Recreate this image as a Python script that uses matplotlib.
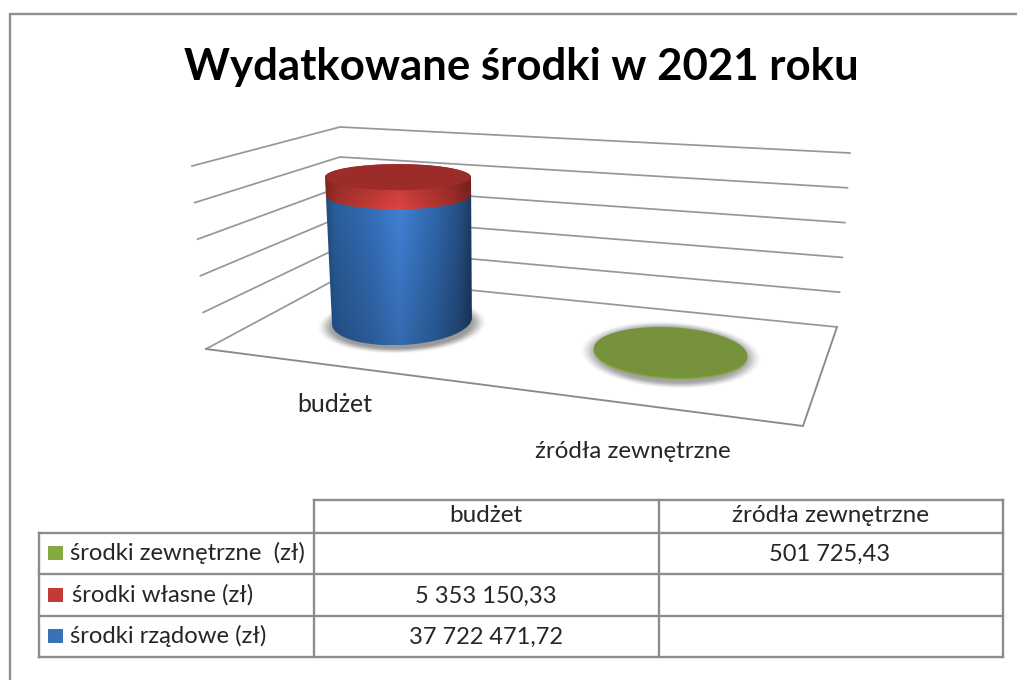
import numpy as np
import matplotlib
matplotlib.use("Agg")
import matplotlib.pyplot as plt
from matplotlib.patches import Polygon, Rectangle

# ---- data ----
title = "Wydatkowane środki w 2021 roku"
categories = ["budżet", "źródła zewnętrzne"]
srodki_rzadowe = [37722471.72, None]
srodki_wlasne = [5353150.33, None]
srodki_zewnetrzne = [None, 501725.43]
row_labels = ["środki zewnętrzne  (zł)", "środki własne (zł)", "środki rządowe (zł)"]
value_ticks = [0, 10e6, 20e6, 30e6, 40e6, 50e6]

# ---- layout / style ----
W, H = 1017, 680
FONT = ["Lato", "DejaVu Sans"]
LINE = "#8c8c8c"
GREY_TEXT = "#262626"


def fmt(v):
    if v is None:
        return ""
    s = f"{v:,.2f}"
    return s.replace(",", " ").replace(".", ",")


fig = plt.figure(figsize=(W / 100, H / 100), dpi=100, facecolor="white")
ax = fig.add_axes([0, 0, 1, 1])
ax.set_axis_off()


def restore():
    ax.set_xlim(0, W)
    ax.set_ylim(H, 0)


restore()

# outer frame (open to the right and bottom)
ax.plot([9.5, 9.5, W], [H, 13.5, 13.5], color="#8f8f8f", lw=1.7, solid_joinstyle="miter", zorder=1)

ax.text(521, 67, title, ha="center", va="center", fontsize=31.5, fontweight="bold",
        family=FONT, color="black")


# ---- 3D wall and floor: value scale for each of the three wall edges ----
def y_left(v):
    return 349 - 36.6 * v / 10e6


def x_left(v):
    return 206 - 2.8 * v / 10e6


def y_back(v):
    return 277 - 30.0 * v / 10e6


def y_right(v):
    return 327 - 34.8 * v / 10e6


def x_right(v):
    return 837 + 2.6 * v / 10e6


for v in value_ticks:
    ax.plot([x_left(v), 340, x_right(v)], [y_left(v), y_back(v), y_right(v)],
            color="#979797", lw=1.25, solid_joinstyle="miter", zorder=2)
ax.plot([x_left(0), 803, x_right(0)], [y_left(0), 426, y_right(0)],
        color="#8a8a8a", lw=1.35, solid_joinstyle="miter", zorder=2)


# ---- cylinders ----
def soft_ellipse(cx, cy, rx, ry, angle, zorder, strength):
    """Blurred grey ground shadow."""
    pad = 1.0
    xs = np.linspace(cx - rx - pad, cx + rx + pad, 320)
    ys = np.linspace(cy - ry - pad, cy + ry + pad, 160)
    X, Y = np.meshgrid(xs, ys)
    t = np.radians(angle)
    dx, dy = X - cx, Y - cy
    u = dx * np.cos(t) + dy * np.sin(t)
    w = -dx * np.sin(t) + dy * np.cos(t)
    d = np.sqrt((u / rx) ** 2 + (w / ry) ** 2)
    s = np.clip((1 - d) / 0.22, 0, 1)
    alpha = s * s * (3 - 2 * s) * strength
    rgba = np.zeros(X.shape + (4,))
    rgba[..., :3] = 0.28
    rgba[..., 3] = alpha
    ax.imshow(rgba, extent=(xs[0], xs[-1], ys[-1], ys[0]), aspect="auto", zorder=zorder,
              interpolation="bilinear")
    restore()


def ring(base, v, vmax_ref):
    """Ellipse of a cylinder at stacked value v: perspective narrows it upward."""
    cx0, cy0, rx0, ry0, tilt0, px_per, cx_top, rx_top, ry_top = base
    f = v / vmax_ref
    return (cx0 + (cx_top - cx0) * f, cy0 - v * px_per, rx0 + (rx_top - rx0) * f,
            ry0 + (ry_top - ry0) * f, tilt0 * (1 - f))


def arc(e, a0, a1, n=80):
    cx, cy, rx, ry, tilt = e
    a = np.radians(np.linspace(a0, a1, n))
    t = np.radians(tilt)
    x, y = rx * np.cos(a), ry * np.sin(a)
    return np.c_[cx + x * np.cos(t) - y * np.sin(t), cy + x * np.sin(t) + y * np.cos(t)]


def shade(stops, top_f, bot_f):
    xs = np.linspace(0, 1, 200)
    pos = [s[0] for s in stops]
    cols = np.array([matplotlib.colors.to_rgb(s[1]) for s in stops])
    row = np.stack([np.interp(xs, pos, cols[:, i]) for i in range(3)], axis=1)
    vert = np.linspace(top_f, bot_f, 60)[:, None, None]
    return np.clip(row[None, :, :] * vert, 0, 1)


def gradient_segment(e_low, e_up, stops, top_f, bot_f, zorder):
    pts = np.vstack([arc(e_low, 180, 0), arc(e_up, 0, -180)])
    poly = Polygon(pts, closed=True, facecolor="none", edgecolor="none", zorder=zorder)
    ax.add_patch(poly)
    x0, x1 = pts[:, 0].min(), pts[:, 0].max()
    y0, y1 = pts[:, 1].min(), pts[:, 1].max()
    im = ax.imshow(shade(stops, top_f, bot_f), extent=(x0, x1, y1, y0), aspect="auto",
                   zorder=zorder, interpolation="bilinear")
    im.set_clip_path(poly)
    restore()


BLUE_STOPS = [(0, "#234f80"), (0.06, "#2b609f"), (0.3, "#3670bc"), (0.5, "#4285dc"),
              (0.75, "#3169af"), (0.92, "#264f85"), (1, "#1b3a5f")]
RED_STOPS = [(0, "#8a2825"), (0.08, "#a8302c"), (0.5, "#dc443f"), (0.85, "#a62f2b"), (1, "#7f2421")]

# cx, cy, rx, ry, tilt, px per unit, top cx, top rx, top ry
base_budzet = (402, 321, 70, 24, -3, 3.34e-6, 398, 73, 13)
ref_height = srodki_rzadowe[0] + srodki_wlasne[0]

soft_ellipse(402, 325, 86, 29, -2, 3, 0.55)
e0 = ring(base_budzet, 0, ref_height)
e1 = ring(base_budzet, srodki_rzadowe[0], ref_height)
e2 = ring(base_budzet, srodki_rzadowe[0] + srodki_wlasne[0], ref_height)
gradient_segment(e0, e1, BLUE_STOPS, 1.0, 0.8, 4)
gradient_segment(e1, e2, RED_STOPS, 0.82, 1.0, 5)
ax.add_patch(Polygon(arc(e2, 0, 360), closed=True, facecolor="#9c2c29", edgecolor="none", zorder=6))

# thin external-funds disc
base_zewn = (670.5, 354.0, 77, 25, 3, 3.34e-6, 670.5, 77, 25)
soft_ellipse(671, 355, 92, 34, 3, 3, 0.5)
z0 = ring(base_zewn, 0, 50e6)
z1 = ring(base_zewn, srodki_zewnetrzne[1], 50e6)
ax.add_patch(Polygon(arc(z0, 0, 360), closed=True, facecolor="#84a540", edgecolor="none", zorder=4))
ax.add_patch(Polygon(arc(z1, 0, 360), closed=True, facecolor="#76923a", edgecolor="none", zorder=5))

# category labels
label_pos = [(335, 405), (633, 451)]
label_size = [17.9, 17.4]
for name, (lx, ly), fs in zip(categories, label_pos, label_size):
    ax.text(lx, ly, name, ha="center", va="center", fontsize=fs, family=FONT, color=GREY_TEXT)

# ---- data table ----
x_left_t, x_lab, x_c1, x_c2 = 39, 314, 659, 1003
y_rows = [500, 533, 574, 616, 657]
tl = dict(color=LINE, lw=1.7, zorder=2, solid_capstyle="projecting")
ax.plot([x_lab, x_c2], [y_rows[0], y_rows[0]], **tl)
for y in y_rows[1:]:
    ax.plot([x_left_t, x_c2], [y, y], **tl)
ax.plot([x_left_t, x_left_t], [y_rows[1], y_rows[4]], **tl)
for x in (x_lab, x_c1, x_c2):
    ax.plot([x, x], [y_rows[0], y_rows[4]], **tl)

col_centers = [486, 830]
for cx_, name in zip(col_centers, categories):
    ax.text(cx_, 515, name, ha="center", va="center", fontsize=17.5, family=FONT, color=GREY_TEXT)

rows = [srodki_zewnetrzne, srodki_wlasne, srodki_rzadowe]
swatches = ["#84aa3f", "#c43a36", "#3a72b8"]
row_y = [553, 595, 636]
label_x = [70, 72, 70]
for values, label, sw, y, lx in zip(rows, row_labels, swatches, row_y, label_x):
    ax.add_patch(Rectangle((48, y - 7), 15, 14, facecolor=sw, edgecolor="none", zorder=3))
    ax.text(lx, y, label, ha="left", va="center", fontsize=17.2, family=FONT, color=GREY_TEXT)
    for cx_, v in zip(col_centers, values):
        if v is not None:
            ax.text(cx_, y + 1, fmt(v), ha="center", va="center", fontsize=17.0, family=FONT,
                    color=GREY_TEXT)

fig.savefig("out.png", dpi=100, facecolor="white")
